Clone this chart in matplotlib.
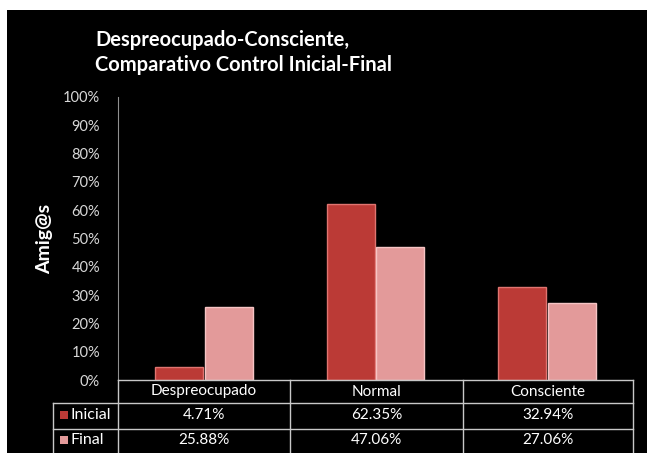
import numpy as np
import matplotlib.pyplot as plt
from matplotlib.patches import Rectangle
from matplotlib.lines import Line2D

categories = ['Despreocupado', 'Normal', 'Consciente']
series_names = ['Inicial', 'Final']
inicial = [4.71, 62.35, 32.94]
final = [25.88, 47.06, 27.06]
yticks = [0, 10, 20, 30, 40, 50, 60, 70, 80, 90, 100]

plt.rcParams['font.family'] = ['Lato', 'DejaVu Sans']

W, H = 647, 453
fig = plt.figure(figsize=(W / 100, H / 100), dpi=100, facecolor='white')
fig.patches.append(Rectangle((7 / W, 0), 1, (H - 10) / H, transform=fig.transFigure,
                             facecolor='black', edgecolor='none', zorder=-5))

# plot area in pixels
x0, x1, y0, y1 = 118, 633, 380, 97
ax = fig.add_axes([x0 / W, (H - y0) / H, (x1 - x0) / W, (y0 - y1) / H])
ax.set_facecolor('none')
ax.set_zorder(2)

c_ini = '#bb3a36'
c_fin = '#e39a9a'
pos = np.arange(len(categories)) + 0.5
w = 0.28
ax.bar(pos - 0.145, inicial, w, color=c_ini, edgecolor='#e07470', linewidth=1)
ax.bar(pos + 0.145, final, w, color=c_fin, edgecolor='#f6c4c4', linewidth=1)

ax.set_xlim(0, 3)
ax.set_ylim(0, 100)
ax.set_yticks(yticks)
ax.set_yticklabels([f'{t}%' for t in yticks], color='#d8d8d8', fontsize=10.5)
ax.tick_params(axis='y', length=0, pad=13)
ax.set_xticks([])
for s in ['top', 'right', 'bottom']:
    ax.spines[s].set_visible(False)
ax.spines['left'].set_color('#909090')
ax.set_ylabel('Amig@s', color='white', fontsize=14, fontweight='bold', labelpad=7)

fig.text(95 / W, (H - 40) / H, 'Despreocupado-Consciente,', color='white',
         fontsize=14.5, fontweight='bold', va='center')
fig.text(95 / W, (H - 65) / H, 'Comparativo Control Inicial-Final', color='white',
         fontsize=14.5, fontweight='bold', va='center')

# data table under the plot
lc = '#c8c8c8'
rows = [380, 403, 429, 453]
cols = [x0, 290, 463, x1]
lab_x = 53

def fx(px):
    return px / W

def fy(py):
    return (H - py) / H

fig.lines.append(Line2D([fx(x0), fx(x1)], [fy(rows[0])] * 2, color=lc, lw=1, transform=fig.transFigure))
for r in rows[1:-1]:
    fig.lines.append(Line2D([fx(lab_x), fx(x1)], [fy(r)] * 2, color=lc, lw=1, transform=fig.transFigure))
for c in cols:
    fig.lines.append(Line2D([fx(c)] * 2, [fy(rows[0]), fy(rows[-1])], color=lc, lw=1, transform=fig.transFigure))
fig.lines.append(Line2D([fx(lab_x)] * 2, [fy(rows[1]), fy(rows[-1])], color=lc, lw=1, transform=fig.transFigure))

for i, cat in enumerate(categories):
    cx = (cols[i] + cols[i + 1]) / 2
    fig.text(fx(cx), fy((rows[0] + rows[1]) / 2), cat, color='white', fontsize=11,
             ha='center', va='center')
    for j, vals in enumerate([inicial, final]):
        fig.text(fx(cx), fy((rows[j + 1] + rows[j + 2]) / 2 - 1), f'{vals[i]:.2f}%',
                 color='white', fontsize=11, ha='center', va='center')

for j, (name, col) in enumerate(zip(series_names, [c_ini, c_fin])):
    cy = (rows[j + 1] + rows[j + 2]) / 2 - 1
    fig.patches.append(Rectangle((fx(60), fy(cy + 4)), 8 / W, 8 / H, transform=fig.transFigure,
                                 facecolor=col, edgecolor='none'))
    fig.text(fx(71), fy(cy), name, color='white', fontsize=11.5, ha='left', va='center')

fig.savefig('out.png', dpi=100, facecolor=fig.get_facecolor())
